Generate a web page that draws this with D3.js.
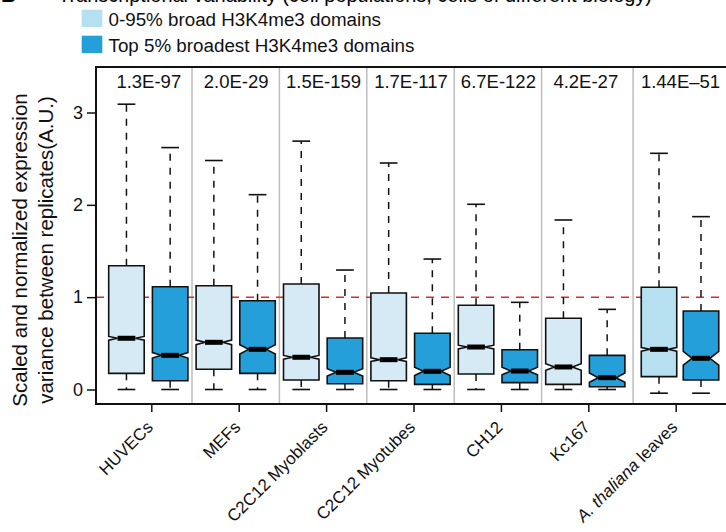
<!DOCTYPE html>
<html>
<head>
<meta charset="utf-8">
<script src="https://cdn.jsdelivr.net/npm/d3@7/dist/d3.min.js"></script>
<style>
  html, body { margin: 0; padding: 0; background: #fff; }
  svg { display: block; font-family: "Liberation Sans", Arial, Helvetica, sans-serif; }
</style>
</head>
<body>
<svg id="chart" width="726" height="532"></svg>
<script>
// ---------------- data ----------------
const categories = ["HUVECs", "MEFs", "C2C12 Myoblasts", "C2C12 Myotubes", "CH12", "Kc167", "A. thaliana leaves"];
const pValues = ["1.3E-97", "2.0E-29", "1.5E-159", "1.7E-117", "6.7E-122", "4.2E-27", "1.44E\u201351"];
const seriesNames = ["0-95% broad H3K4me3 domains", "Top 5% broadest H3K4me3 domains"];
const yTicks = [0, 1, 2, 3];
const referenceLine = 1;

// series 0: 0-95% broad domains
const lower0  = [0, 0, 0, 0, 0, 0, -0.04];
const q1_0    = [0.175, 0.219, 0.103, 0.095, 0.168, 0.056, 0.139];
const median0 = [0.555, 0.511, 0.349, 0.323, 0.460, 0.244, 0.435];
const q3_0    = [1.340, 1.124, 1.143, 1.045, 0.912, 0.771, 1.107];
const upper0  = [3.09, 2.48, 2.69, 2.453, 2.006, 1.836, 2.558];
const notch0  = [0.02, 0.025, 0.02, 0.02, 0.02, 0.035, 0.02];

// series 1: top 5% broadest domains
const lower1  = [0, 0, 0, 0, 0, 0, -0.04];
const q1_1    = [0.095, 0.175, 0.063, 0.056, 0.074, 0.030, 0.103];
const median1 = [0.370, 0.435, 0.186, 0.197, 0.200, 0.128, 0.338];
const q3_1    = [1.113, 0.962, 0.558, 0.609, 0.431, 0.370, 0.850];
const upper1  = [2.62, 2.11, 1.294, 1.413, 0.944, 0.868, 1.872];
const notch1  = [0.03, 0.05, 0.04, 0.045, 0.04, 0.05, 0.075];

// ---------------- styles / layout ----------------
const lightFill = "#d6eaf6", lightFillAlt = "#b6dff0";
const darkFill = "#259fda";
const legendLight = "#b5e0f0", legendDark = "#259fda";

const svg = d3.select("#chart");
const frame = { left: 96, top: 67, right: 760, bottom: 404 };

const y = d3.scaleLinear().domain([0, 3]).range([389.5, 112.5]);
const xTick = d3.scaleLinear().domain([0, categories.length - 1]).range([151.8, 676.2]);
const boxW = 35.5;
function groupCenter(i) { return xTick(i) + (i === categories.length - 1 ? 3.8 : -3.5); }
function boxCenter(i, s) {
  const half = (i === categories.length - 1 ? 21 : 21.85);
  return groupCenter(i) + (s === 0 ? -half : half);
}

const series = [
  { lower: lower0, q1: q1_0, med: median0, q3: q3_0, upper: upper0, notch: notch0 },
  { lower: lower1, q1: q1_1, med: median1, q3: q3_1, upper: upper1, notch: notch1 }
];

// ---------------- title (cropped by the top edge, as in the reference) ----------------
svg.append("text").attr("x", 1).attr("y", 2).attr("font-size", 21).attr("font-weight", "bold").text("B");
svg.append("text").attr("x", 58).attr("y", 2).attr("font-size", 20)
  .attr("textLength", 594).attr("lengthAdjust", "spacingAndGlyphs")
  .text("Transcriptional variability (cell populations, cells of different biology)");

// ---------------- legend ----------------
const legend = svg.append("g");
[legendLight, legendDark].forEach((c, k) => {
  legend.append("rect").attr("x", 81.7).attr("y", 9.7 + k * 26).attr("width", 20.6).attr("height", 17.3).attr("fill", c);
  legend.append("text").attr("x", 108.5).attr("y", 26 + k * 26).attr("font-size", 18.8).attr("fill", "#111").text(seriesNames[k]);
});

// ---------------- separators ----------------
const sepG = svg.append("g");
for (let i = 0; i < categories.length - 1; i++) {
  const sx = ((boxCenter(i, 1) + boxW / 2) + (boxCenter(i + 1, 0) - boxW / 2)) / 2;
  sepG.append("line").attr("x1", sx).attr("x2", sx).attr("y1", frame.top).attr("y2", frame.bottom)
    .attr("stroke", "#bdbdbd").attr("stroke-width", 1.5);
}

// ---------------- reference line ----------------
svg.append("line").attr("x1", frame.left).attr("x2", 726).attr("y1", y(referenceLine)).attr("y2", y(referenceLine))
  .attr("stroke", "#e3262b").attr("stroke-width", 1.5).attr("stroke-dasharray", "8,7");

// ---------------- boxes ----------------
const boxG = svg.append("g");
categories.forEach((cat, i) => {
  series.forEach((s, k) => {
    const cx = boxCenter(i, k);
    const L = cx - boxW / 2, R = cx + boxW / 2, qL = cx - boxW / 4, qR = cx + boxW / 4;
    const fill = k === 0 ? (i === categories.length - 1 ? lightFillAlt : lightFill) : darkFill;
    // whiskers
    boxG.append("line").attr("x1", cx).attr("x2", cx).attr("y1", y(s.q3[i])).attr("y2", y(s.upper[i]))
      .attr("stroke", "#111").attr("stroke-width", 1.5).attr("stroke-dasharray", "7,7");
    boxG.append("line").attr("x1", cx).attr("x2", cx).attr("y1", y(s.q1[i])).attr("y2", y(s.lower[i]))
      .attr("stroke", "#111").attr("stroke-width", 1.5).attr("stroke-dasharray", "7,7");
    [s.upper[i], s.lower[i]].forEach(v => {
      boxG.append("line").attr("x1", qL).attr("x2", qR).attr("y1", y(v)).attr("y2", y(v))
        .attr("stroke", "#111").attr("stroke-width", 1.6);
    });
    // notched box
    const m = s.med[i], n = s.notch[i];
    const p = d3.path();
    p.moveTo(L, y(s.q1[i]));
    p.lineTo(L, y(m - n));
    p.lineTo(qL, y(m));
    p.lineTo(L, y(m + n));
    p.lineTo(L, y(s.q3[i]));
    p.lineTo(R, y(s.q3[i]));
    p.lineTo(R, y(m + n));
    p.lineTo(qR, y(m));
    p.lineTo(R, y(m - n));
    p.lineTo(R, y(s.q1[i]));
    p.closePath();
    boxG.append("path").attr("d", p.toString()).attr("fill", fill)
      .attr("stroke", "#111").attr("stroke-width", 1.6).attr("stroke-linejoin", "miter");
    // median
    boxG.append("line").attr("x1", qL).attr("x2", qR).attr("y1", y(m)).attr("y2", y(m))
      .attr("stroke", "#000").attr("stroke-width", 5);
  });
});

// ---------------- p-values ----------------
svg.append("g").selectAll("text").data(pValues).join("text")
  .attr("x", (d, i) => groupCenter(i) + 0.5).attr("y", 88)
  .attr("text-anchor", "middle").attr("font-size", 18.5).attr("fill", "#111").text(d => d);

// ---------------- frame ----------------
svg.append("rect").attr("x", frame.left).attr("y", frame.top)
  .attr("width", frame.right - frame.left).attr("height", frame.bottom - frame.top)
  .attr("fill", "none").attr("stroke", "#111").attr("stroke-width", 2);

// ---------------- y axis ----------------
const yAxis = d3.axisLeft(y).tickValues(yTicks).tickSize(9).tickPadding(4).tickFormat(d3.format("d"));
const yg = svg.append("g").attr("transform", `translate(${frame.left},0)`).call(yAxis);
yg.select(".domain").remove();
yg.selectAll(".tick line").attr("stroke", "#111").attr("stroke-width", 1.5);
yg.selectAll(".tick text").attr("font-size", 18).attr("fill", "#111")
  .attr("font-family", "Liberation Sans, Arial, sans-serif");

// ---------------- x axis ----------------
const xg = svg.append("g").attr("transform", `translate(0,${frame.bottom})`);
categories.forEach((c, i) => {
  xg.append("line").attr("x1", xTick(i)).attr("x2", xTick(i)).attr("y1", 0).attr("y2", 8)
    .attr("stroke", "#111").attr("stroke-width", 1.5);
  const t = xg.append("text")
    .attr("transform", `translate(${xTick(i) - 2},${20}) rotate(-45)`)
    .attr("text-anchor", "end").attr("font-size", 17).attr("fill", "#111").attr("dy", "0.35em");
  if (c.startsWith("A. thaliana")) {
    t.append("tspan").attr("font-style", "italic").text("A. thaliana");
    t.append("tspan").text(" leaves");
  } else {
    t.text(c);
  }
});

// ---------------- y title ----------------
const yt = svg.append("text").attr("transform", "translate(27,250) rotate(-90)")
  .attr("text-anchor", "middle").attr("font-size", 20.5).attr("fill", "#111");
yt.append("tspan").attr("x", 0).attr("y", 0).text("Scaled and normalized expression");
yt.append("tspan").attr("x", 0).attr("y", 0).attr("dy", 26).text("variance between replicates(A.U.)");
</script>
</body>
</html>
